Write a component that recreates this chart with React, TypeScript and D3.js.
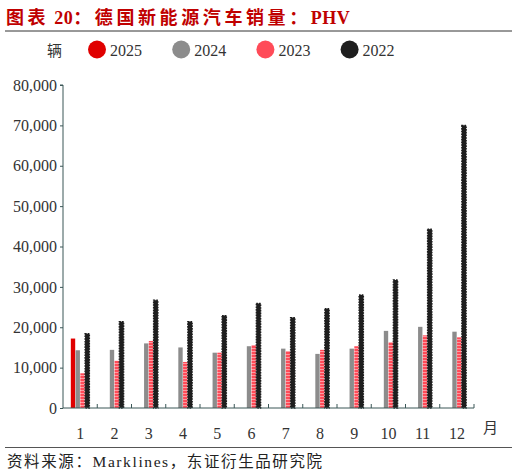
import React, { useEffect, useRef } from "react";
import * as d3 from "d3";

const months = ["1", "2", "3", "4", "5", "6", "7", "8", "9", "10", "11", "12"];
const years = ["2025", "2024", "2023", "2022"];
const yearColors = ["#e00000", "#8c8c8c", "#ff4b58", "#1e1e1e"];

// sales per month (vehicles), null = no data yet
const sales2025 = [17200, null, null, null, null, null, null, null, null, null, null, null];
const sales2024 = [14300, 14400, 16000, 15000, 13700, 15300, 14700, 13400, 14700, 19100, 20100, 18900];
const sales2023 = [8600, 11700, 16600, 11400, 13700, 15600, 14100, 14400, 15300, 16300, 18000, 17500];
const sales2022 = [18400, 21400, 26700, 21400, 22900, 25900, 22400, 24600, 28000, 31700, 44300, 70000];

const yTicks = [0, 10000, 20000, 30000, 40000, 50000, 60000, 70000, 80000];

// title pieces: [text, letter spacing]
const titleParts: [string, number][] = [
  ["图表", 3.6],
  [" 20", 0.5],
  ["：德国新能源汽车销量：", 3.6],
  ["PHV", 0.5],
];

const serif = "'Liberation Serif', 'Noto Sans CJK SC', serif";

export default function App() {
  const svgRef = useRef<SVGSVGElement>(null);

  useEffect(() => {
    const svg = d3.select(svgRef.current);
    svg.selectAll("*").remove();

    const W = 517;
    const H = 475;
    const left = 63;
    const right = 474;
    const top = 85;
    const bottom = 408;

    svg.attr("width", W).attr("height", H).attr("viewBox", `0 0 ${W} ${H}`);

    // pattern for 2023 bars (faint white stripes)
    const defs = svg.append("defs");
    const pat = defs
      .append("pattern")
      .attr("id", "stripes23")
      .attr("patternUnits", "userSpaceOnUse")
      .attr("width", 6)
      .attr("height", 3);
    pat.append("rect").attr("width", 6).attr("height", 3).attr("fill", yearColors[2]);
    pat
      .append("line")
      .attr("x1", 0)
      .attr("x2", 6)
      .attr("y1", 0.5)
      .attr("y2", 0.5)
      .attr("stroke", "#ffd0d4")
      .attr("stroke-width", 0.6);

    // title
    const title = svg
      .append("text")
      .attr("x", 6)
      .attr("y", 24)
      .attr("font-family", serif)
      .attr("font-size", 18)
      .attr("font-weight", "bold")
      .attr("fill", "#c00000");
    titleParts.forEach(([t, ls]) => {
      title.append("tspan").attr("letter-spacing", ls).text(t);
    });

    svg
      .append("line")
      .attr("x1", 5)
      .attr("x2", 512)
      .attr("y1", 31)
      .attr("y2", 31)
      .attr("stroke", "#333")
      .attr("stroke-width", 1);

    // legend
    const legend = svg.append("g").attr("font-family", serif).attr("font-size", 16).attr("fill", "#333");
    legend
      .append("text")
      .attr("x", 47)
      .attr("y", 56)
      .attr("font-size", 15)
      .text("辆");
    years.forEach((yr, i) => {
      const cx = 97 + i * 84.2;
      legend.append("circle").attr("cx", cx).attr("cy", 49.5).attr("r", 9).attr("fill", yearColors[i]);
      legend
        .append("text")
        .attr("x", cx + 13)
        .attr("y", 56)
        .text(yr);
    });

    const x = d3.scaleBand<string>().domain(months).range([left, right]).padding(0);
    const groupW = 18.6;
    const inner = d3
      .scaleBand<string>()
      .domain(years)
      .range([0, groupW])
      .paddingInner(0.08);
    const y = d3.scaleLinear().domain([0, 80000]).range([bottom, top]);

    const series = [sales2025, sales2024, sales2023, sales2022];

    const bars = svg.append("g");
    series.forEach((vals, si) => {
      const yr = years[si];
      vals.forEach((v, mi) => {
        if (v == null) return;
        const bx = (x(months[mi]) as number) + (x.bandwidth() - groupW) / 2 + (inner(yr) as number);
        const bw = inner.bandwidth();
        const r = bars
          .append("rect")
          .attr("x", bx)
          .attr("y", y(v))
          .attr("width", bw)
          .attr("height", bottom - y(v));
        if (si === 3) {
          r.attr("fill", yearColors[3])
            .attr("stroke", yearColors[3])
            .attr("stroke-width", 1.3)
            .attr("stroke-dasharray", "1.6,1.1");
        } else if (si === 2) {
          r.attr("fill", "url(#stripes23)");
        } else {
          r.attr("fill", yearColors[si]);
        }
      });
    });

    const axisColor = "#3b5757";

    // y axis
    const yAxis = svg
      .append("g")
      .attr("transform", `translate(${left},0)`)
      .call(
        d3
          .axisLeft(y)
          .tickValues(yTicks)
          .tickSize(3)
          .tickPadding(3)
          .tickFormat((d) => d3.format(",")(d as number))
      );
    yAxis.select(".domain").attr("stroke", axisColor).attr("d", `M-3,${top}H0V${bottom}`);
    yAxis.selectAll(".tick line").attr("stroke", axisColor);
    yAxis
      .selectAll(".tick text")
      .attr("font-family", serif)
      .attr("font-size", 16)
      .attr("fill", "#333");

    // x axis
    const xAxis = svg
      .append("g")
      .attr("transform", `translate(0,${bottom})`)
      .call(d3.axisBottom(x).tickSize(0).tickPadding(20));
    xAxis.select(".domain").attr("stroke", axisColor).attr("d", `M${left},0H${right}`);
    xAxis
      .selectAll(".tick text")
      .attr("font-family", serif)
      .attr("font-size", 16)
      .attr("fill", "#333");

    // category separator ticks
    const seps = months.map((m) => (x(m) as number) + x.bandwidth());
    svg
      .append("g")
      .selectAll("line")
      .data(seps)
      .join("line")
      .attr("x1", (d) => d)
      .attr("x2", (d) => d)
      .attr("y1", bottom)
      .attr("y2", bottom - 4)
      .attr("stroke", axisColor);

    svg
      .append("text")
      .attr("x", 483)
      .attr("y", 433)
      .attr("font-family", serif)
      .attr("font-size", 15)
      .attr("fill", "#333")
      .text("月");

    // footer
    svg
      .append("line")
      .attr("x1", 5)
      .attr("x2", 512)
      .attr("y1", 447.5)
      .attr("y2", 447.5)
      .attr("stroke", "#555")
      .attr("stroke-width", 1);

    svg
      .append("text")
      .attr("x", 7)
      .attr("y", 467)
      .attr("font-family", serif)
      .attr("font-size", 15.5)
      .attr("letter-spacing", 1.6)
      .attr("fill", "#222")
      .text("资料来源：Marklines，东证衍生品研究院");
  }, []);

  return <svg ref={svgRef} style={{ position: "absolute", left: 0, top: 0, background: "#fff" }} />;
}
